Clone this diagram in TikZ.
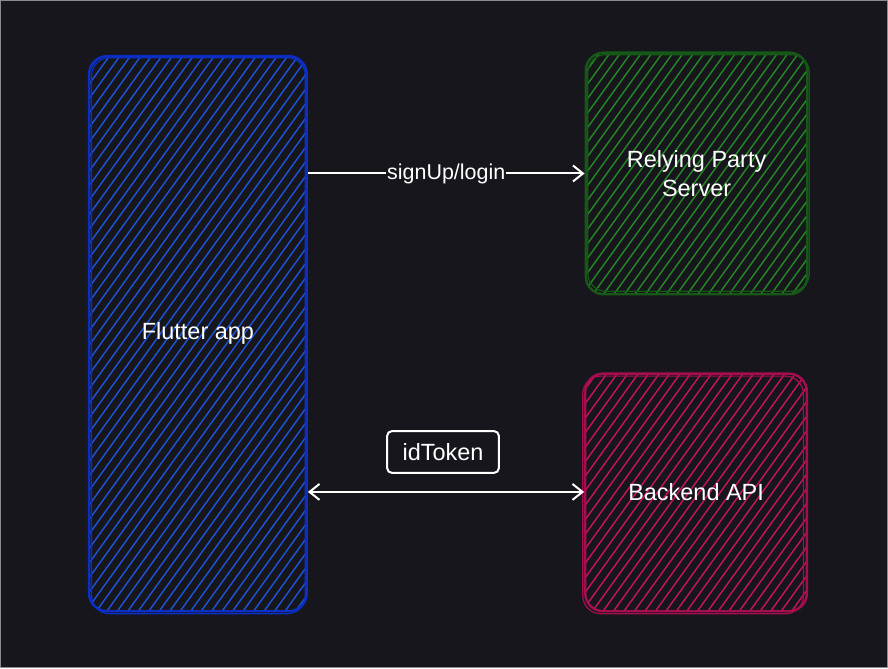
\documentclass[tikz,border=0pt]{standalone}
\usepackage{fontspec}
\setmainfont{Liberation Sans}
\usetikzlibrary{arrows.meta,calc}
\definecolor{bg}{HTML}{18161D}
\definecolor{edge}{HTML}{8A8A8F}
\definecolor{bluestroke}{HTML}{0B2FC4}
\definecolor{bluehatch}{HTML}{1B55D8}
\definecolor{greenstroke}{HTML}{165816}
\definecolor{greenhatch}{HTML}{238A23}
\definecolor{pinkstroke}{HTML}{A50E4E}
\definecolor{pinkhatch}{HTML}{C8145F}
\tikzset{
  hatchbox/.style 2 args={rounded corners=18pt, draw=#1, line width=2.4pt,
    inner sep=0pt, text=white, font=\fontsize{23.5}{29}\selectfont, align=center,
    path picture={
      \foreach \i in {-60,...,25}{
        \draw[#2, line width=1.4pt]
          ($(path picture bounding box.south west)+(\i*10.5pt,-10pt)$) -- ++(520pt,720pt);
      }
    }},
  sketch/.style={draw=#1, line width=1.2pt, rounded corners=18pt},
  conn/.style={draw=white, line width=2pt},
  lbl/.style={text=white, font=\fontsize{21.5}{26}\selectfont},
  tlbl/.style={text=white, font=\fontsize{23.5}{28}\selectfont},
  arr/.style={-{Straight Barb[length=10pt,width=16pt,line width=2pt]}},
  darr/.style={{Straight Barb[length=10pt,width=16pt,line width=2pt]}-{Straight Barb[length=10pt,width=16pt,line width=2pt]}},
}
\begin{document}
\begin{tikzpicture}[x=1pt,y=-1pt]
\fill[bg] (0,0) rectangle (888,668);
\draw[edge, line width=1.5pt] (0,0) rectangle (888,668);
\useasboundingbox (0,0) rectangle (888,668);

\node[hatchbox={bluestroke}{bluehatch}, minimum width=218pt, minimum height=556pt] (flutter) at (197.5,333.5) {Flutter app};
\node[hatchbox={greenstroke}{greenhatch}, minimum width=222pt, minimum height=242pt] (rp) at (697,173) {Relying Party\\Server};
\node[hatchbox={pinkstroke}{pinkhatch}, minimum width=222pt, minimum height=238pt] (api) at (696.5,492.5) {Backend API};

% sketchy second strokes
\draw[sketch=bluestroke] (91,57) rectangle (305,614);
\draw[sketch=greenstroke] (588,54) rectangle (810,291);
\draw[sketch=pinkstroke] (583,376) rectangle (804,614);

\coordinate (fa) at (flutter.east |- 0,173);
\coordinate (ra) at (rp.west |- 0,173);
\draw[conn, arr] (fa) -- node[lbl, fill=bg, inner sep=1pt] (sl) {signUp/login} (ra);

\coordinate (fb) at (flutter.east |- 0,492);
\coordinate (ab) at (api.west |- 0,492);
\draw[conn, darr] (fb) -- (ab);

\node[tlbl, draw=white, line width=2pt, rounded corners=5pt, minimum width=112pt, minimum height=42pt] (tok) at (443,452) {idToken};
\end{tikzpicture}
\end{document}
